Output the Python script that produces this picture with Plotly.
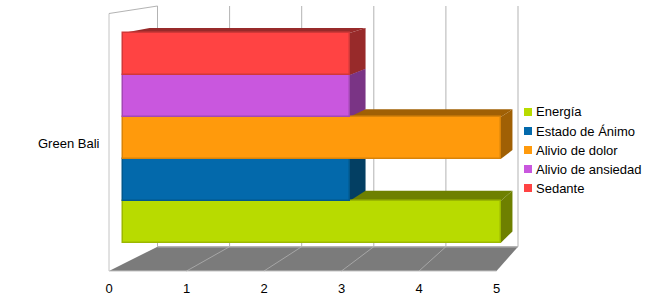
import plotly.graph_objects as go

categories = ["Green Bali"]
series_names = ["Energía", "Estado de Ánimo", "Alivio de dolor", "Alivio de ansiedad", "Sedante"]
series_values = [5, 3, 5, 3, 3]
front_colors = ["#b8db00", "#0369ab", "#ff9a0c", "#c957de", "#ff4343"]
edge_colors = ["#9bb800", "#02588c", "#d98309", "#a348b4", "#d13838"]
side_colors = ["#6e8000", "#033f63", "#a06005", "#7a3485", "#982a2a"]
x_ticks = [0, 1, 2, 3, 4, 5]

W, H = 654, 300
X0, U = 122.7, 75.6      # bar axis: pixel of value 0, pixels per unit
YC, GH = 138.0, 210.0    # bar axis: pixel of category centre, height of group


def px(p):
    return p / W


def py(p):
    return 1 - p / H


def depth_dx(v):
    return 22.5 - 2.15 * v


def depth_dy(p):
    return 3.96 + 0.0314 * p


def poly(points, xref, yref, fill, layer="below"):
    path = "M" + "L".join(f"{a},{b}" for a, b in points) + "Z"
    return dict(type="path", path=path, xref=xref, yref=yref, fillcolor=fill,
                line=dict(width=0), layer=layer)


def seg(x0, y0, x1, y1, color="#b3b3b3", width=1):
    return dict(type="line", xref="paper", yref="paper", x0=px(x0), y0=py(y0), x1=px(x1), y1=py(y1),
                line=dict(color=color, width=width), layer="below")


FRONT0, FRONTU, FLOOR_Y = 109.0, 77.5, 271.0
BACK0, BACKU, BACK_FLOOR, BACK_TOP = 157.5, 72.1, 246.7, 6.0
LEFT_TOP = 13.5

shapes = []
front_px = [FRONT0 + FRONTU * t for t in x_ticks]
back_px = [BACK0 + BACKU * t for t in x_ticks]

shapes.append(poly([(px(front_px[0]), py(FLOOR_Y)), (px(back_px[0]), py(BACK_FLOOR)),
                    (px(back_px[-1]), py(BACK_FLOOR)), (px(front_px[-1]), py(FLOOR_Y))],
                   "paper", "paper", "#7b7b7b"))
for f, b in zip(front_px, back_px):
    shapes.append(seg(b, BACK_TOP, b, BACK_FLOOR))
    if f not in (front_px[0], front_px[-1]):
        shapes.append(seg(f, FLOOR_Y, b, BACK_FLOOR, "#a6a6a6"))
shapes.append(seg(FRONT0, LEFT_TOP, FRONT0, FLOOR_Y, "#c4c4c4"))
shapes.append(seg(FRONT0, LEFT_TOP, BACK0, BACK_TOP))
shapes.append(seg(FRONT0, FLOOR_Y, front_px[-1], FLOOR_Y, "#c4c4c4"))
shapes.append(seg(back_px[0], BACK_FLOOR, back_px[-1], BACK_FLOOR, "#b3b3b3", 1.5))

# top and side faces, bottom bar first, each derived from its value
n = len(series_values)
for i, v in enumerate(series_values):
    top_d = -0.5 + (i + 1) / n
    bot_d = -0.5 + i / n
    top_p = YC - GH * top_d
    bot_p = YC - GH * bot_d
    back_top = top_d + depth_dy(top_p) / GH
    back_bot = bot_d + depth_dy(bot_p) / GH
    back_v = v + depth_dx(v) / U
    back_0 = 27.0 / U
    shapes.append(poly([(0, top_d), (back_0, back_top), (back_v, back_top), (v, top_d)],
                       "x", "y", side_colors[i]))
    shapes.append(poly([(v, top_d), (back_v, back_top), (back_v, back_bot), (v, bot_d)],
                       "x", "y", side_colors[i]))

fig = go.Figure()
for name, val, fc, ec in zip(series_names, series_values, front_colors, edge_colors):
    fig.add_trace(go.Bar(name=name, y=categories, x=[val], orientation="h",
                         marker=dict(color=fc, line=dict(color=ec, width=1.5)),
                         xaxis="x", yaxis="y", showlegend=False))

# carrier for the floor-level value axis
fig.add_trace(go.Scatter(x=x_ticks, y=[0] * len(x_ticks), mode="none", xaxis="x2", yaxis="y2",
                         showlegend=False, hoverinfo="skip"))

annotations = [dict(text=categories[0], xref="paper", yref="paper", x=px(101.5), y=py(143),
                    xanchor="right", yanchor="middle", showarrow=False,
                    font=dict(size=13, color="#000000"))]
LEG_X, LEG_Y0, LEG_STEP, SW = 524.0, 112.0, 19.0, 8.0
for i, (name, fc) in enumerate(zip(series_names, front_colors)):
    yy = LEG_Y0 + LEG_STEP * i
    shapes.append(dict(type="rect", xref="paper", yref="paper", x0=px(LEG_X), x1=px(LEG_X + SW),
                       y0=py(yy - SW / 2), y1=py(yy + SW / 2), fillcolor=fc, line=dict(width=0),
                       layer="above"))
    annotations.append(dict(text=name, xref="paper", yref="paper", x=px(LEG_X + SW + 2), y=py(yy),
                            xanchor="left", yanchor="middle", showarrow=False,
                            font=dict(size=13, color="#000000")))

fig.update_layout(
    width=W, height=H, margin=dict(l=0, r=0, t=0, b=0, pad=0, autoexpand=False),
    paper_bgcolor="#ffffff", plot_bgcolor="rgba(0,0,0,0)",
    font=dict(family="Liberation Sans", size=13, color="#000000"),
    barmode="group", bargap=0, bargroupgap=0, showlegend=False,
    shapes=shapes, annotations=annotations,
    xaxis=dict(domain=[0, 1], range=[(0 - X0) / U, (W - X0) / U], visible=False, fixedrange=True),
    yaxis=dict(domain=[0, 1], type="category", range=[(YC - H) / GH, YC / GH], visible=False, fixedrange=True),
    xaxis2=dict(domain=[px(FRONT0), px(FRONT0 + FRONTU * 5)], range=[0, 5], anchor="y2",
                tickmode="array", tickvals=x_ticks, ticktext=[str(t) for t in x_ticks], showgrid=False,
                zeroline=False, showline=False, ticks="outside", ticklen=5, tickcolor="rgba(0,0,0,0)",
                tickfont=dict(size=13, color="#000000"), fixedrange=True),
    yaxis2=dict(domain=[py(FLOOR_Y), py(LEFT_TOP)], range=[0, 1], anchor="x2", visible=False, fixedrange=True),
)

fig.write_html("out.html", config=dict(displayModeBar=False),
               post_script="document.body.style.margin='0';document.body.style.overflow='hidden';")
